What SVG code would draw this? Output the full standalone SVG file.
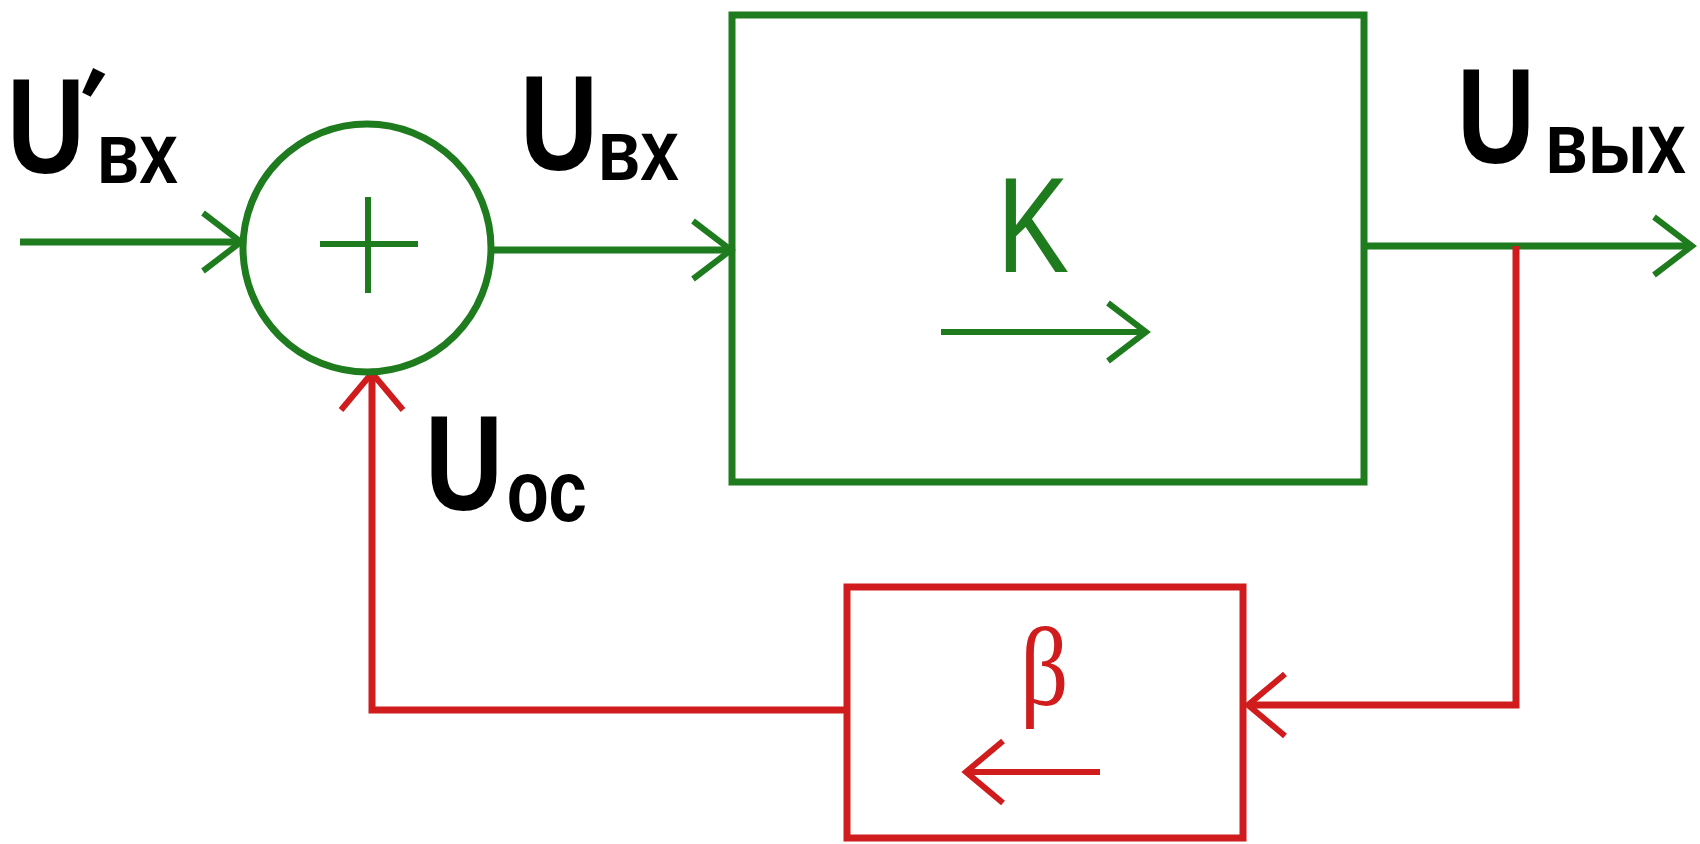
<svg xmlns="http://www.w3.org/2000/svg" width="1700" height="844" viewBox="0 0 1700 844">
<style>
.g{stroke:#1e7b1e;fill:none;stroke-width:7}
.r{stroke:#d01c1c;fill:none;stroke-width:7}
.lbl{font-family:"Liberation Sans",Arial,sans-serif;font-weight:bold;fill:#000;font-size:135px}
.sub{font-size:87px}
.pr{font-size:110px}
.k{font-family:"Liberation Sans",Arial,sans-serif;font-size:135px;fill:#1e7b1e}
.b{font-family:"Liberation Serif","Times New Roman",serif;font-size:112px;fill:#d01c1c}
</style>
<defs>
<marker id="ag" markerUnits="userSpaceOnUse" viewBox="-45 -35 50 70" markerWidth="50" markerHeight="70" refX="0" refY="0" orient="auto">
<path d="M-38,-29 L0,0 L-38,29" fill="none" stroke="#1e7b1e" stroke-width="6"/>
</marker>
<marker id="ar" markerUnits="userSpaceOnUse" viewBox="-45 -35 50 70" markerWidth="50" markerHeight="70" refX="0" refY="0" orient="auto">
<path d="M-37,-31 L0,0 L-37,31" fill="none" stroke="#d01c1c" stroke-width="6"/>
</marker>
</defs>
<rect width="1700" height="844" fill="#fff"/>

<g id="connectors">
<path class="g" d="M20,242 H241" marker-end="url(#ag)"/>
<path class="g" d="M491,250 H731" marker-end="url(#ag)"/>
<path class="g" d="M1364,246 H1692" marker-end="url(#ag)"/>
<path class="r" d="M1516,246 V705 H1248" marker-end="url(#ar)"/>
<path class="r" d="M847,710 H372 V373" marker-end="url(#ar)"/>
</g>

<g id="summator">
<circle class="g" cx="367" cy="248" r="124"/>
<path class="g" style="stroke-width:6" d="M320,244 H418 M368,197 V293"/>
</g>

<g id="amplifier">
<rect class="g" x="732" y="15" width="632" height="467"/>
<text class="k" transform="translate(997,272) scale(0.8,1)">K</text>
<path class="g" style="stroke-width:6" d="M941,332 H1146" marker-end="url(#ag)"/>
</g>

<g id="feedback">
<rect class="r" x="847" y="587" width="396" height="251"/>
<text class="b" transform="translate(1020,705) scale(0.85,1)">β</text>
<path class="r" style="stroke-width:6" d="M1100,772 H966" marker-end="url(#ar)"/>
</g>

<g id="label-uin-prime">
<text class="lbl" transform="translate(7,173) scale(0.8,1)"><tspan x="0" y="0">U</tspan><tspan class="pr" x="72" y="-38" rotate="22">′</tspan><tspan class="sub" x="112" y="10">вх</tspan></text>
</g>

<g id="label-uin">
<text class="lbl" transform="translate(520,170) scale(0.8,1)"><tspan x="0" y="0">U</tspan><tspan class="sub" x="97" y="10">вх</tspan></text>
</g>

<g id="label-uout">
<text class="lbl" transform="translate(1457,163) scale(0.8,1)"><tspan x="0" y="0">U</tspan><tspan class="sub" x="110" y="10">вых</tspan></text>
</g>

<g id="label-uos">
<text class="lbl" transform="translate(425,510) scale(0.8,1)"><tspan x="0" y="0">U</tspan><tspan class="sub" x="102" y="11">ос</tspan></text>
</g>
</svg>
